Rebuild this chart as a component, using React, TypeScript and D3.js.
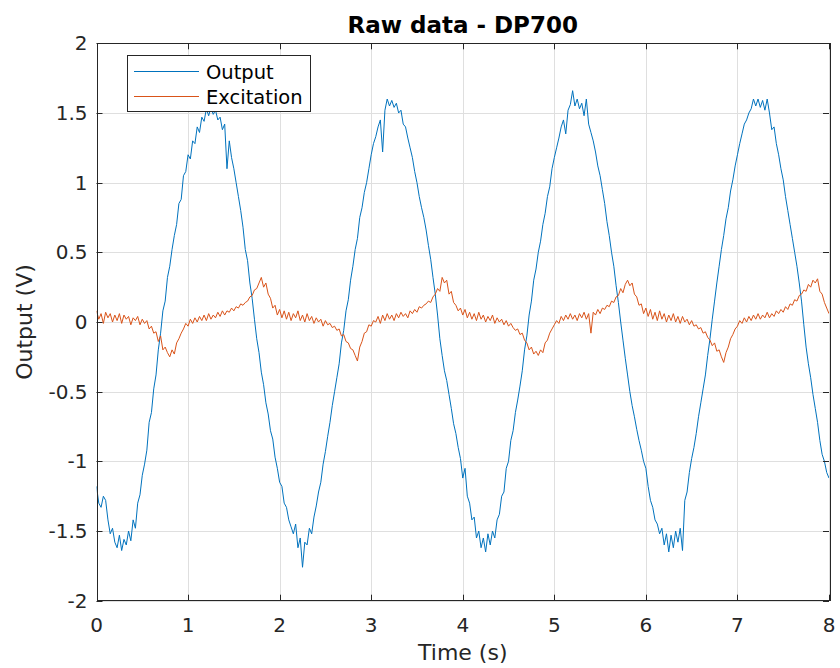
import React from 'react';
import * as d3 from 'd3';

// sample spacing of the recorded signals (s)
const DT = 0.025;

// Output (V), every 0.025 s from 0 to 8 s
const outputV = [
  // 0 s
  -1.18, -1.30, -1.33, -1.25, -1.28, -1.42, -1.52, -1.48, -1.58, -1.62,
  -1.53, -1.64, -1.56, -1.60, -1.50, -1.57, -1.42, -1.48, -1.30, -1.24,
  -1.10, -1.02, -0.92, -0.72, -0.65, -0.48, -0.38, -0.20, -0.08, 0.08,
  0.15, 0.32, 0.40, 0.52, 0.62, 0.70, 0.85, 0.88, 1.05, 1.08,
  // 1 s
  1.20, 1.17, 1.30, 1.28, 1.40, 1.36, 1.47, 1.44, 1.53, 1.48,
  1.54, 1.49, 1.52, 1.45, 1.47, 1.38, 1.42, 1.10, 1.30, 1.18,
  1.10, 1.00, 0.90, 0.80, 0.68, 0.52, 0.44, 0.28, 0.17, 0.02,
  -0.12, -0.22, -0.36, -0.45, -0.58, -0.66, -0.78, -0.84, -0.97, -1.05,
  // 2 s
  -1.15, -1.18, -1.30, -1.33, -1.42, -1.47, -1.52, -1.45, -1.62, -1.55,
  -1.76, -1.58, -1.60, -1.48, -1.52, -1.40, -1.32, -1.22, -1.15, -1.02,
  -0.93, -0.82, -0.72, -0.60, -0.50, -0.40, -0.30, -0.15, -0.06, 0.08,
  0.16, 0.30, 0.40, 0.52, 0.60, 0.75, 0.82, 0.93, 1.00, 1.10,
  // 3 s
  1.20, 1.28, 1.33, 1.40, 1.45, 1.22, 1.52, 1.60, 1.55, 1.59,
  1.54, 1.57, 1.50, 1.52, 1.42, 1.40, 1.32, 1.25, 1.18, 1.08,
  1.00, 0.90, 0.82, 0.75, 0.66, 0.55, 0.45, 0.32, 0.20, 0.05,
  -0.12, -0.24, -0.35, -0.42, -0.52, -0.62, -0.73, -0.80, -0.90, -0.98,
  // 4 s
  -1.12, -1.05, -1.25, -1.30, -1.42, -1.40, -1.55, -1.50, -1.62, -1.55,
  -1.65, -1.52, -1.60, -1.50, -1.55, -1.42, -1.38, -1.25, -1.22, -1.05,
  -1.00, -0.85, -0.78, -0.65, -0.56, -0.46, -0.35, -0.20, -0.10, 0.05,
  0.15, 0.30, 0.38, 0.50, 0.58, 0.70, 0.78, 0.90, 0.97, 1.10,
  // 5 s
  1.18, 1.25, 1.32, 1.40, 1.45, 1.35, 1.52, 1.56, 1.66, 1.55,
  1.60, 1.53, 1.57, 1.48, 1.60, 1.42, 1.36, 1.30, 1.22, 1.12,
  1.05, 0.95, 0.85, 0.72, 0.62, 0.50, 0.40, 0.26, 0.14, 0.00,
  -0.13, -0.26, -0.38, -0.50, -0.60, -0.68, -0.77, -0.85, -0.92, -1.00,
  // 6 s
  -1.05, -1.18, -1.28, -1.33, -1.42, -1.45, -1.52, -1.48, -1.60, -1.52,
  -1.65, -1.53, -1.62, -1.50, -1.58, -1.48, -1.64, -1.28, -1.22, -1.08,
  -0.98, -0.90, -0.80, -0.68, -0.58, -0.48, -0.38, -0.24, -0.12, 0.02,
  0.15, 0.28, 0.40, 0.52, 0.62, 0.74, 0.82, 0.94, 1.02, 1.12,
  // 7 s
  1.20, 1.28, 1.35, 1.42, 1.45, 1.50, 1.53, 1.60, 1.55, 1.60,
  1.54, 1.59, 1.52, 1.60, 1.50, 1.38, 1.40, 1.28, 1.20, 1.10,
  1.02, 0.90, 0.80, 0.70, 0.60, 0.50, 0.40, 0.28, 0.15, -0.02,
  -0.18, -0.30, -0.40, -0.52, -0.62, -0.72, -0.85, -0.95, -1.00, -1.08,
  // 8 s
  -1.12,
];

// Excitation (V), every 0.025 s from 0 to 8 s
const excitationV = [
  // 0 s
  0.08, 0.02, 0.06, -0.01, 0.07, 0.03, 0.06, 0.00, 0.05, 0.01,
  0.06, -0.01, 0.05, 0.02, 0.04, -0.02, 0.03, 0.01, 0.04, -0.02,
  0.02, -0.01, 0.01, -0.05, -0.03, -0.08, -0.07, -0.14, -0.10, -0.20,
  -0.18, -0.22, -0.25, -0.20, -0.23, -0.15, -0.12, -0.08, -0.05, -0.01,
  // 1 s
  -0.03, 0.02, -0.01, 0.03, 0.00, 0.04, 0.01, 0.05, 0.01, 0.06,
  0.02, 0.05, 0.03, 0.07, 0.04, 0.08, 0.05, 0.08, 0.07, 0.10,
  0.08, 0.11, 0.10, 0.13, 0.12, 0.14, 0.15, 0.18, 0.19, 0.23,
  0.24, 0.28, 0.32, 0.25, 0.28, 0.20, 0.17, 0.10, 0.12, 0.05,
  // 2 s
  0.09, 0.03, 0.08, 0.02, 0.07, 0.01, 0.06, 0.03, 0.08, 0.01,
  0.05, 0.00, 0.06, 0.01, 0.04, -0.01, 0.03, 0.00, 0.02, -0.03,
  0.01, -0.02, -0.01, -0.04, -0.03, -0.06, -0.05, -0.10, -0.09, -0.14,
  -0.15, -0.19, -0.20, -0.24, -0.28, -0.18, -0.14, -0.08, -0.07, -0.02,
  // 3 s
  -0.03, 0.01, 0.00, 0.04, -0.01, 0.05, 0.01, 0.06, 0.02, 0.05,
  0.01, 0.06, 0.03, 0.07, 0.04, 0.06, 0.03, 0.08, 0.06, 0.09,
  0.07, 0.11, 0.10, 0.12, 0.13, 0.15, 0.14, 0.18, 0.20, 0.24,
  0.22, 0.32, 0.28, 0.30, 0.20, 0.22, 0.14, 0.12, 0.08, 0.10,
  // 4 s
  0.05, 0.09, 0.03, 0.07, 0.02, 0.06, 0.01, 0.07, 0.02, 0.05,
  0.00, 0.04, 0.01, 0.05, -0.01, 0.03, 0.00, 0.02, -0.02, 0.01,
  -0.03, -0.01, -0.04, -0.06, -0.05, -0.09, -0.08, -0.13, -0.15, -0.20,
  -0.18, -0.23, -0.21, -0.24, -0.20, -0.22, -0.15, -0.13, -0.08, -0.05,
  // 5 s
  -0.02, 0.01, -0.01, 0.04, 0.01, 0.05, 0.02, 0.06, 0.02, 0.05,
  0.01, 0.06, 0.03, 0.07, 0.02, 0.06, -0.08, 0.07, 0.05, 0.09,
  0.06, 0.10, 0.09, 0.12, 0.11, 0.15, 0.14, 0.18, 0.19, 0.24,
  0.21, 0.27, 0.30, 0.26, 0.28, 0.20, 0.18, 0.12, 0.13, 0.06,
  // 6 s
  0.10, 0.04, 0.09, 0.02, 0.07, 0.01, 0.08, 0.02, 0.06, 0.00,
  0.05, 0.01, 0.06, 0.00, 0.04, -0.01, 0.04, 0.00, 0.02, -0.02,
  0.01, -0.03, -0.02, -0.05, -0.04, -0.08, -0.07, -0.11, -0.13, -0.17,
  -0.15, -0.21, -0.20, -0.25, -0.29, -0.22, -0.18, -0.12, -0.09, -0.05,
  // 7 s
  -0.03, 0.01, -0.01, 0.03, 0.00, 0.04, 0.01, 0.05, 0.02, 0.06,
  0.02, 0.05, 0.03, 0.07, 0.03, 0.06, 0.04, 0.08, 0.06, 0.09,
  0.07, 0.11, 0.09, 0.13, 0.12, 0.16, 0.15, 0.19, 0.20, 0.23,
  0.22, 0.27, 0.25, 0.30, 0.28, 0.31, 0.22, 0.20, 0.14, 0.10,
  // 8 s
  0.06,
];

const xTicks = [0, 1, 2, 3, 4, 5, 6, 7, 8];
const xTickLabels = ['0', '1', '2', '3', '4', '5', '6', '7', '8'];
const yTicks = [-2, -1.5, -1, -0.5, 0, 0.5, 1, 1.5, 2];
const yTickLabels = ['-2', '-1.5', '-1', '-0.5', '0', '0.5', '1', '1.5', '2'];
const seriesNames = ['Output', 'Excitation'];
const seriesColors = ['#0072BD', '#D95319'];

const titleText = 'Raw data - DP700';
const xLabel = 'Time (s)';
const yLabel = 'Output (V)';

export default function App() {
  const W = 840;
  const H = 668;
  const left = 96.5;
  const right = 829;
  const top = 43.3;
  const bottom = 600.7;
  const font = 'DejaVu Sans, Liberation Sans, sans-serif';
  const axisColor = '#262626';
  const gridColor = '#dfdfdf';

  const x = d3.scaleLinear().domain([0, 8]).range([left, right]);
  const y = d3.scaleLinear().domain([-2, 2]).range([bottom, top]);
  const line = d3
    .line<number>()
    .x((_, i) => x(i * DT))
    .y((d) => y(d));

  const series = [outputV, excitationV];
  const snap = (v: number) => Math.round(v) + 0.5;
  const tickLen = 6;

  return (
    <svg
      width={W}
      height={H}
      style={{ position: 'absolute', left: 0, top: 0, background: '#fff' }}
      fontFamily={font}
    >
      <rect x={0} y={0} width={W} height={H} fill="#fff" />
      <defs>
        <clipPath id="plotClip">
          <rect x={left} y={top} width={right - left} height={bottom - top} />
        </clipPath>
      </defs>
      {/* grid */}
      {xTicks.map((t) => (
        <line key={'gx' + t} x1={snap(x(t))} x2={snap(x(t))} y1={top} y2={bottom} stroke={gridColor} strokeWidth={1} />
      ))}
      {yTicks.map((t) => (
        <line key={'gy' + t} x1={left} x2={right} y1={snap(y(t))} y2={snap(y(t))} stroke={gridColor} strokeWidth={1} />
      ))}
      {/* data */}
      <g clipPath="url(#plotClip)">
        {series.map((s, k) => (
          <path key={seriesNames[k]} d={line(s) || ''} fill="none" stroke={seriesColors[k]} strokeWidth={1} strokeLinejoin="round" />
        ))}
      </g>
      {/* axes box */}
      <rect x={snap(left)} y={snap(top)} width={Math.round(right - left)} height={Math.round(bottom - top)} fill="none" stroke={axisColor} strokeWidth={1} />
      {/* ticks */}
      {xTicks.map((t) => (
        <g key={'tx' + t}>
          <line x1={snap(x(t))} x2={snap(x(t))} y1={bottom} y2={bottom - tickLen} stroke={axisColor} />
          <line x1={snap(x(t))} x2={snap(x(t))} y1={top} y2={top + tickLen} stroke={axisColor} />
        </g>
      ))}
      {yTicks.map((t) => (
        <g key={'ty' + t}>
          <line x1={left} x2={left + tickLen} y1={snap(y(t))} y2={snap(y(t))} stroke={axisColor} />
          <line x1={right} x2={right - tickLen} y1={snap(y(t))} y2={snap(y(t))} stroke={axisColor} />
        </g>
      ))}
      {/* tick labels */}
      {xTicks.map((t, i) => (
        <text key={'lx' + t} x={x(t)} y={bottom + 31} textAnchor="middle" fontSize={20} fill={axisColor}>
          {xTickLabels[i]}
        </text>
      ))}
      {yTicks.map((t, i) => (
        <text key={'ly' + t} x={left - 9} y={y(t) + 7} textAnchor="end" fontSize={20} fill={axisColor}>
          {yTickLabels[i]}
        </text>
      ))}
      {/* title and labels */}
      <text x={(left + right) / 2} y={33} textAnchor="middle" fontSize={23} fontWeight="bold" fill="#000">
        {titleText}
      </text>
      <text x={(left + right) / 2} y={660} textAnchor="middle" fontSize={22} fill={axisColor}>
        {xLabel}
      </text>
      <text transform={`translate(32, ${(top + bottom) / 2}) rotate(-90)`} textAnchor="middle" fontSize={22} fill={axisColor}>
        {yLabel}
      </text>
      {/* legend */}
      <g>
        <rect x={127.5} y={55.5} width={183} height={56} fill="#fff" stroke={axisColor} strokeWidth={1} />
        {seriesNames.map((n, k) => (
          <g key={'lg' + n}>
            <line x1={134} x2={199} y1={71.5 + k * 25} y2={71.5 + k * 25} stroke={seriesColors[k]} strokeWidth={1} />
            <text x={206} y={78.5 + k * 25} fontSize={19.5} fill="#000">
              {n}
            </text>
          </g>
        ))}
      </g>
    </svg>
  );
}
